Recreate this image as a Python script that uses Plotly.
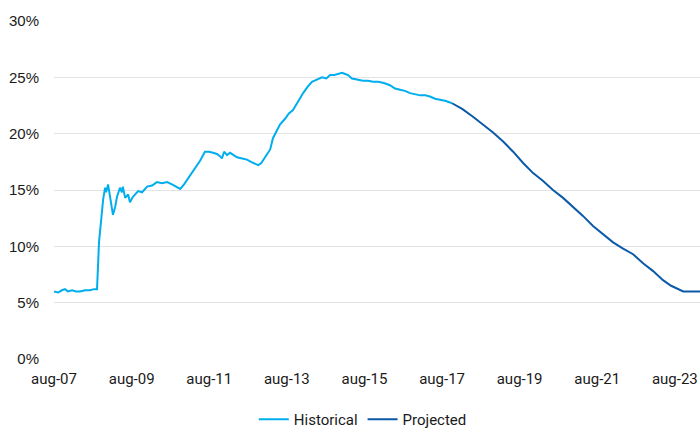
import plotly.graph_objects as go

hist_dates = [
    "2007-08-01", "2007-09-08", "2007-10-15", "2007-11-12", "2007-12-10", "2008-01-18",
    "2008-02-24", "2008-04-01", "2008-05-19", "2008-07-04", "2008-08-12", "2008-09-09",
    "2008-09-28", "2008-10-16", "2008-11-06", "2008-11-24", "2008-12-04", "2008-12-22",
    "2009-01-10", "2009-01-29", "2009-02-06", "2009-02-27", "2009-03-16", "2009-04-13",
    "2009-05-01", "2009-05-10", "2009-06-01", "2009-06-29", "2009-07-16", "2009-08-13",
    "2009-10-01", "2009-11-07", "2009-12-25", "2010-02-09", "2010-03-27", "2010-05-13",
    "2010-07-01", "2010-08-16", "2010-09-22", "2010-11-01", "2010-12-07", "2011-01-04",
    "2011-02-12", "2011-03-19", "2011-05-07", "2011-06-22", "2011-07-29", "2011-09-06",
    "2011-10-13", "2011-11-10", "2011-11-29", "2011-12-19", "2012-01-16", "2012-02-13",
    "2012-03-15", "2012-04-19", "2012-06-06", "2012-07-22", "2012-08-28", "2012-10-06",
    "2012-11-04", "2012-12-03", "2013-01-09", "2013-02-25", "2013-03-23", "2013-05-01",
    "2013-05-28", "2013-07-13", "2013-08-20", "2013-09-28", "2013-11-15", "2014-01-01",
    "2014-02-08", "2014-03-25", "2014-05-10", "2014-06-27", "2014-08-08", "2014-09-12",
    "2014-10-22", "2014-11-25", "2015-01-03", "2015-02-01", "2015-02-28", "2015-04-06",
    "2015-06-01", "2015-07-18", "2015-09-04", "2015-10-21", "2015-12-08", "2016-02-01",
    "2016-03-28", "2016-05-15", "2016-07-01", "2016-08-17", "2016-10-04", "2016-11-20",
    "2017-01-07", "2017-02-24", "2017-04-09", "2017-05-27", "2017-07-13", "2017-09-07",
    "2017-11-03",
]
hist_values = [
    6.0, 5.9, 6.1, 6.2, 6.0, 6.1,
    6.0, 6.0, 6.1, 6.1, 6.2, 6.2,
    10.4, 12.2, 14.2, 15.2, 14.8, 15.5,
    14.4, 13.2, 12.8, 13.5, 14.4, 15.2,
    14.8, 15.3, 14.3, 14.6, 13.9, 14.4,
    14.9, 14.8, 15.3, 15.4, 15.7, 15.6,
    15.7, 15.5, 15.3, 15.1, 15.5, 15.9,
    16.5, 17.0, 17.6, 18.4, 18.4, 18.3,
    18.2, 18.0, 17.8, 18.4, 18.1, 18.3,
    18.1, 17.9, 17.8, 17.7, 17.5, 17.3,
    17.2, 17.4, 17.9, 18.6, 19.6, 20.3,
    20.8, 21.3, 21.8, 22.1, 22.9, 23.6,
    24.1, 24.6, 24.8, 25.0, 24.9, 25.2,
    25.2, 25.3, 25.4, 25.3, 25.2, 24.9,
    24.8, 24.7, 24.7, 24.6, 24.6, 24.5,
    24.3, 24.0, 23.9, 23.8, 23.6, 23.5,
    23.4, 23.4, 23.3, 23.1, 23.0, 22.9,
    22.7,
]

proj_dates = [
    "2017-11-03", "2018-02-06", "2018-05-19", "2018-08-22", "2018-11-24", "2019-02-27",
    "2019-06-01", "2019-09-03", "2019-12-06", "2020-03-09", "2020-06-10", "2020-09-13",
    "2020-12-16", "2021-03-19", "2021-06-22", "2021-09-25", "2021-12-28", "2022-04-01",
    "2022-07-04", "2022-10-06", "2023-01-09", "2023-04-12", "2023-06-27", "2023-10-19",
    "2024-03-25",
]
proj_values = [
    22.7, 22.2, 21.5, 20.8, 20.1, 19.3,
    18.4, 17.4, 16.5, 15.8, 15.0, 14.3,
    13.5, 12.7, 11.8, 11.1, 10.35, 9.8,
    9.3, 8.5, 7.8, 7.0, 6.5, 6.0,
    6.0,
]

x_tick_vals = ["2007-08-01", "2009-08-01", "2011-08-01", "2013-08-01", "2015-08-01",
               "2017-08-01", "2019-08-01", "2021-08-01", "2023-08-01"]
x_tick_text = ["aug-07", "aug-09", "aug-11", "aug-13", "aug-15",
               "aug-17", "aug-19", "aug-21", "aug-23"]
y_tick_vals = [0, 5, 10, 15, 20, 25, 30]
y_tick_text = ["0%", "5%", "10%", "15%", "20%", "25%", "30%"]

fig = go.Figure()
fig.add_trace(go.Scatter(x=hist_dates, y=hist_values, mode="lines", name="Historical",
                         line=dict(color="#00AEEF", width=2)))
fig.add_trace(go.Scatter(x=proj_dates, y=proj_values, mode="lines", name="Projected",
                         line=dict(color="#0B5AA8", width=2)))

fig.update_layout(
    width=700, height=436,
    margin=dict(l=54, r=0, t=21, b=76),
    paper_bgcolor="white", plot_bgcolor="white",
    font=dict(family="Roboto", size=15, color="#1a1a1a"),
    showlegend=True,
    legend=dict(orientation="h", x=0.478, xanchor="center", y=-0.13, yanchor="top",
                font=dict(family="Roboto", size=15, color="#1a1a1a"),
                itemwidth=30, tracegroupgap=0),
    xaxis=dict(type="date", range=["2007-08-01", "2024-03-25"],
               tickvals=x_tick_vals, ticktext=x_tick_text,
               showgrid=False, zeroline=False, showline=False, ticks="",
               ticklabelstandoff=9, automargin=False,
               tickfont=dict(family="Roboto", size=15, color="#1a1a1a")),
    yaxis=dict(range=[0, 30], tickvals=y_tick_vals, ticktext=y_tick_text,
               showgrid=True, gridcolor="#E3E3E3", gridwidth=1,
               zeroline=False, showline=False, ticks="",
               ticklabelstandoff=14, automargin=False,
               tickfont=dict(family="Liberation Sans", size=15, color="#1a1a1a")),
)

fig.write_html("out.html")
